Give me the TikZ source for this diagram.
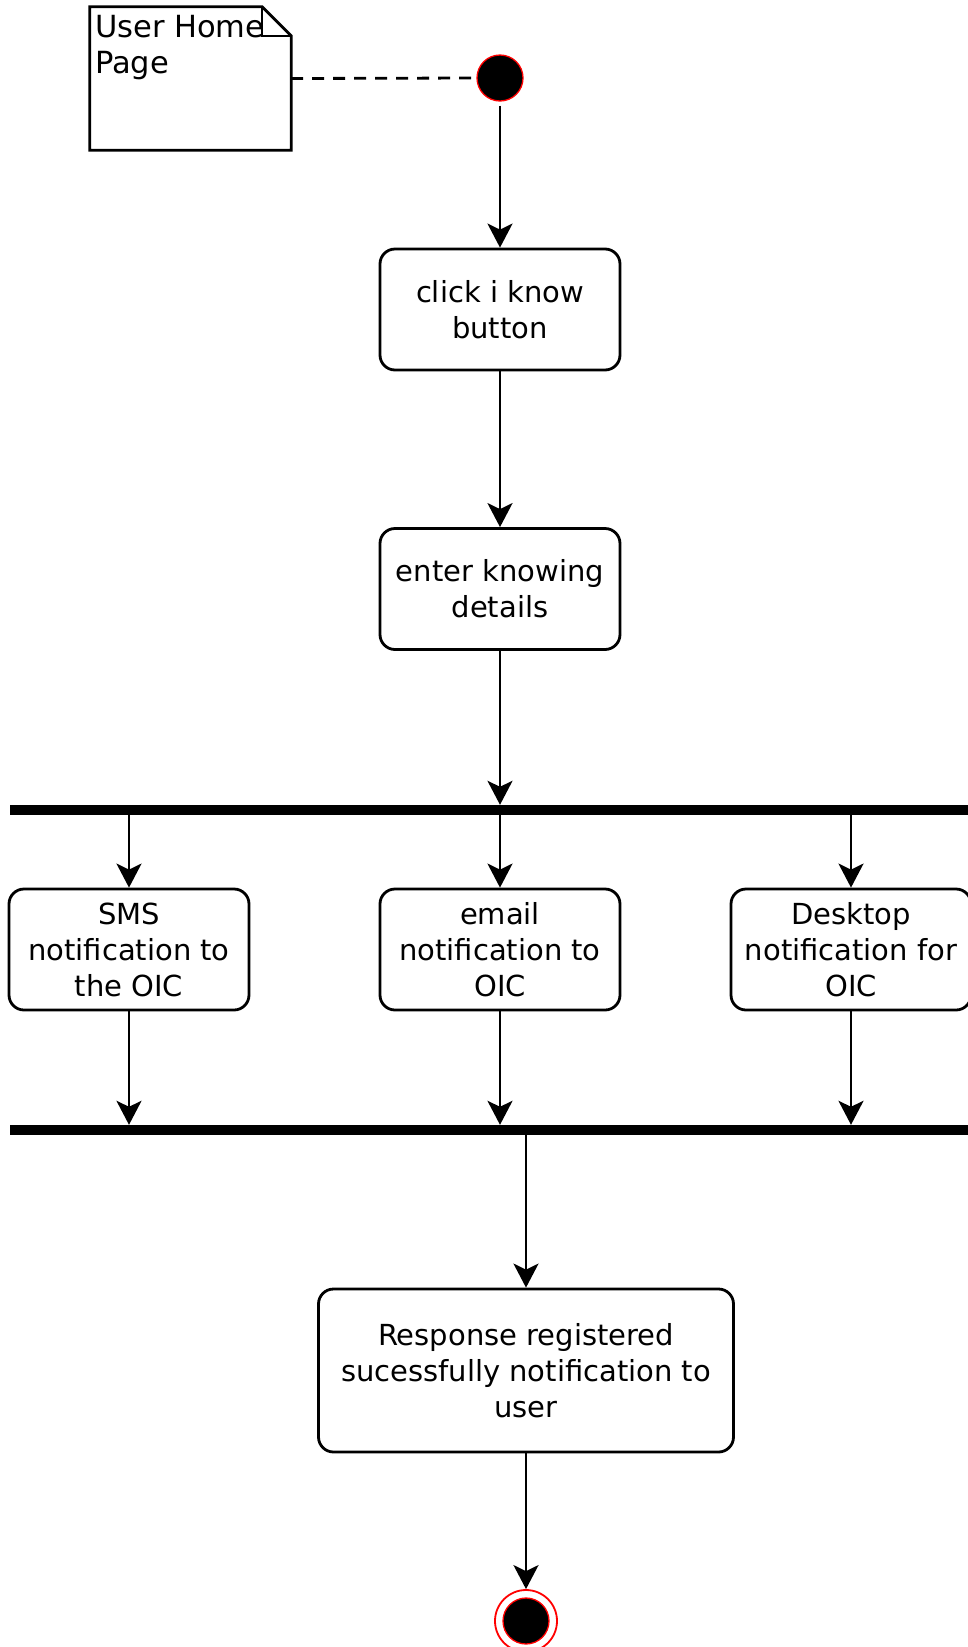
\documentclass[tikz,border=0pt]{standalone}
\usepackage{fontspec}
\setmainfont{DejaVu Sans}
\usetikzlibrary{arrows.meta}
\begin{document}
\begin{tikzpicture}[x=1pt,y=-1pt,
  act/.style={draw, line width=2.8pt, rounded corners=15pt, minimum width=240pt, minimum height=121pt, align=center, inner sep=0pt, font=\fontsize{29}{36}\selectfont},
  flow/.style={-{Stealth[length=24pt,width=25pt,inset=6pt]}, line width=2.6pt},
  syncbar/.style={fill=black, inner sep=0pt, minimum height=10pt, minimum width=968pt},
  notetxt/.style={inner sep=0pt, align=left, font=\fontsize{30.5}{36}\selectfont}
]
\useasboundingbox (0,0) rectangle (968,1647);

% note
\node[minimum width=201pt, minimum height=143pt, inner sep=0pt] (note) at (190.5,78.5) {};
\draw[line width=2.8pt] (note.south west) -- (note.north west) -- ([xshift=-29pt]note.north east)
  -- ([yshift=-29pt]note.north east) -- (note.south east) -- cycle;
\draw[line width=2.5pt] ([xshift=-29pt]note.north east) -- ([xshift=-29pt,yshift=-29pt]note.north east) -- ([yshift=-29pt]note.north east);
\node[notetxt, anchor=north west] (notetext) at (95,15.5) {User Home\\Page};

% start
\node[circle, fill=black, draw=red, line width=1.3pt, minimum size=46pt, inner sep=0pt] (start) at (500,78) {};
\draw[line width=2.8pt, dash pattern=on 12pt off 9pt] (note.east) -- (start.west);

% activities
\node[act] (click) at (500,309.5) {click i know\\button};
\node[act] (enter) at (500,589) {enter knowing\\details};

\node[syncbar] (fork) at (494,810) {};
\node[act] (sms) at (129,949.5) {SMS\\notification to\\the OIC};
\node[act] (email) at (500,949.5) {email\\notification to\\OIC};
\node[act] (desk) at (851,949.5) {Desktop\\notification for\\OIC};
\node[syncbar] (join) at (494,1130) {};

\node[act, minimum width=415pt, minimum height=163pt] (resp) at (526,1370.5) {Response registered\\sucessfully notification to\\user};

% end
\node[circle, draw=red, line width=1.8pt, minimum size=62pt, inner sep=0pt] (endo) at (526,1621) {};
\node[circle, fill=black, draw=red, line width=1.3pt, minimum size=46pt, inner sep=0pt] (endi) at (endo) {};

% connectors
\draw[flow] ([yshift=-4pt]start.south) -- (click.north);
\draw[flow] (click) -- (enter);
\draw[flow] (enter) -- (enter.south |- fork.north);
\draw[flow] (sms.north |- fork.south) -- (sms.north);
\draw[flow] (email.north |- fork.south) -- (email.north);
\draw[flow] (desk.north |- fork.south) -- (desk.north);
\draw[flow] (sms.south) -- (sms.south |- join.north);
\draw[flow] (email.south) -- (email.south |- join.north);
\draw[flow] (desk.south) -- (desk.south |- join.north);
\draw[flow] (resp.north |- join.south) -- (resp.north);
\draw[flow] (resp.south) -- (endo.north);
\end{tikzpicture}
\end{document}
